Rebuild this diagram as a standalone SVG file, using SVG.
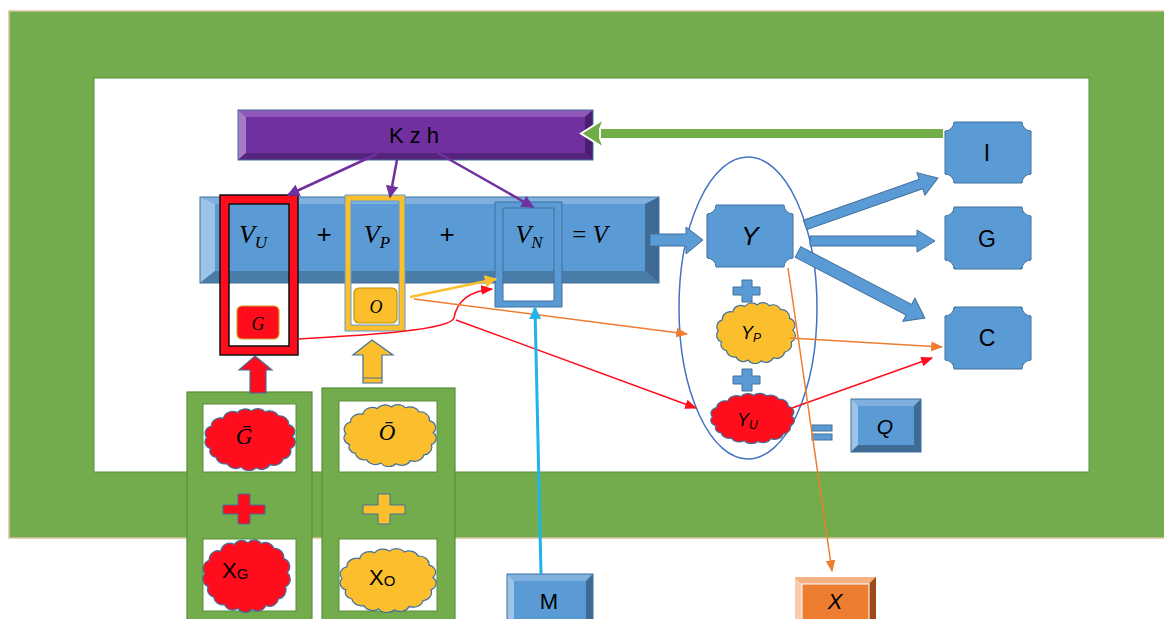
<svg xmlns="http://www.w3.org/2000/svg" width="1164" height="619" viewBox="0 0 1164 619">
<style>
.sans{font-family:"Liberation Sans","DejaVu Sans",sans-serif;fill:#000}
.math{font-family:"Liberation Serif","DejaVu Serif",serif;font-style:italic;fill:#000}
.blue{fill:#5B9BD5;stroke:#41719C;stroke-width:1}
.cloud{stroke:#41719C;stroke-width:1.2}
.thin{fill:none;stroke-width:1.5}
</style>
<defs>
<symbol id="cloudS" viewBox="0 0 100 80" preserveAspectRatio="none">
<path vector-effect="non-scaling-stroke" d="M8,52 A9,9 0 0 1 4,38 A9,9 0 0 1 9,24 A10,10 0 0 1 22,14 A10,10 0 0 1 37,7 A10,10 0 0 1 52,5 A10,10 0 0 1 67,6 A10,10 0 0 1 81,11 A10,10 0 0 1 92,22 A9,9 0 0 1 96,37 A9,9 0 0 1 94,52 A10,10 0 0 1 86,65 A10,10 0 0 1 72,72 A10,10 0 0 1 57,76 A10,10 0 0 1 41,75 A10,10 0 0 1 26,71 A10,10 0 0 1 14,63 A8,8 0 0 1 8,52 Z"/>
</symbol>
<marker id="aPur" viewBox="0 0 10 10" refX="9" refY="5" markerWidth="5" markerHeight="5" orient="auto"><path d="M0,0 L10,5 L0,10 Z" fill="#7030A0"/></marker>
<marker id="aRed" viewBox="0 0 10 10" refX="9" refY="5" markerWidth="8" markerHeight="8" orient="auto"><path d="M0,1 L10,5 L0,9 Z" fill="#FF0D1C"/></marker>
<marker id="aOr" viewBox="0 0 10 10" refX="9" refY="5" markerWidth="8" markerHeight="8" orient="auto"><path d="M0,1 L10,5 L0,9 Z" fill="#ED7D31"/></marker>
<marker id="aYel" viewBox="0 0 10 10" refX="9" refY="5" markerWidth="5" markerHeight="5" orient="auto"><path d="M0,0 L10,5 L0,10 Z" fill="#FBBF2E"/></marker>
<marker id="aCy" viewBox="0 0 10 10" refX="9" refY="5" markerWidth="4" markerHeight="4" orient="auto"><path d="M0,0 L10,5 L0,10 Z" fill="#1FB4EA"/></marker>
</defs>

<g id="frame">
<rect x="9" y="11" width="1160" height="527" fill="#72AC4D" stroke="#D8C49E" stroke-width="1.5"/>
<rect x="94" y="78" width="995" height="394" fill="#FFFFFF" stroke="#5E8F3A" stroke-width="1"/>
</g>

<g id="boxG">
<rect x="187" y="392" width="125" height="240" fill="#72AC4D" stroke="#5A8E3A" stroke-width="1.2"/>
<rect x="203" y="404" width="93" height="68" fill="#FFFFFF" stroke="#5A8E3A" stroke-width="1"/>
<rect x="203" y="539" width="93" height="72" fill="#FFFFFF" stroke="#5A8E3A" stroke-width="1"/>
</g>
<g id="boxO">
<rect x="322" y="388" width="133" height="240" fill="#72AC4D" stroke="#5A8E3A" stroke-width="1.2"/>
<rect x="339" y="401" width="98" height="71" fill="#FFFFFF" stroke="#5A8E3A" stroke-width="1"/>
<rect x="339" y="539" width="98" height="72" fill="#FFFFFF" stroke="#5A8E3A" stroke-width="1"/>
</g>

<g id="Gbar">
<use href="#cloudS" x="203" y="407" width="93" height="64" fill="#FF0D1C" class="cloud"/>
<text x="244" y="444" class="math" font-size="23" text-anchor="middle">Ḡ</text>
</g>
<g id="Obar">
<use href="#cloudS" x="342" y="403" width="95" height="64" fill="#FBBF2E" class="cloud"/>
<text x="387" y="440" class="math" font-size="23" text-anchor="middle">Ō</text>
</g>
<g id="plusRed"><path d="M238,494 H250 V505 H265 V514 H250 V524 H238 V514 H223 V505 H238 Z" fill="#FF0D1C" stroke="#41719C" stroke-width="1"/></g>
<g id="plusYel"><path d="M378,494 H390 V505 H405 V514 H390 V524 H378 V514 H363 V505 H378 Z" fill="#FBBF2E" stroke="#41719C" stroke-width="1"/></g>
<g id="XG">
<use href="#cloudS" x="201" y="538" width="90" height="75" fill="#FF0D1C" class="cloud"/>
<text x="222" y="578" class="sans" font-size="22">X<tspan font-size="15" dy="1">G</tspan></text>
</g>
<g id="XO">
<use href="#cloudS" x="338" y="547" width="99" height="66" fill="#FBBF2E" class="cloud"/>
<text x="369" y="585" class="sans" font-size="22">X<tspan font-size="15" dy="1">O</tspan></text>
</g>

<g id="upRed"><path d="M255,356 L272,370 L266,370 L266,393 L250,393 L250,370 L239,370 Z" fill="#FF0D1C" stroke="#41719C" stroke-width="1.2"/></g>
<g id="upYel"><path d="M372,340 L393,355 L382,355 L382,383 L363,383 L363,355 L353,355 Z" fill="#FBBF2E" stroke="#41719C" stroke-width="1.2"/><line x1="363" y1="378" x2="382" y2="378" stroke="#41719C" stroke-width="1"/></g>

<g id="Kzh">
<rect x="238" y="110" width="355" height="50" fill="#7030A0"/>
<polygon points="238,110 593,110 585,117 246,117" fill="#8E58BA"/>
<polygon points="238,110 246,117 246,153 238,160" fill="#A67BC6"/>
<polygon points="593,110 593,160 585,153 585,117" fill="#4B1F6F"/>
<polygon points="238,160 246,153 585,153 593,160" fill="#55247D"/>
<rect x="238" y="110" width="355" height="50" fill="none" stroke="#41719C" stroke-width="1"/>
<text x="414" y="143" class="sans" font-size="22" text-anchor="middle">K z h</text>
</g>

<g id="Vbar">
<rect x="200" y="197" width="459" height="86" fill="#5B9BD5"/>
<polygon points="200,197 659,197 645,204 215,204" fill="#7FB0DE"/>
<polygon points="200,197 215,204 215,271 200,283" fill="#9DC3E6"/>
<polygon points="659,197 659,283 645,271 645,204" fill="#3E6A94"/>
<polygon points="200,283 215,271 645,271 659,283" fill="#4A7CA8"/>
<rect x="200" y="197" width="459" height="86" fill="none" stroke="#41719C" stroke-width="1"/>
<text x="324" y="243" class="sans" font-size="26" text-anchor="middle">+</text>
<text x="447" y="243" class="sans" font-size="26" text-anchor="middle">+</text>
<text x="590" y="243" class="math" font-size="25" text-anchor="middle" style="font-style:normal">= <tspan style="font-style:italic">V</tspan></text>
</g>

<g id="VU">
<path d="M220,195 H298 V355 H220 Z M229,204 V346 H289 V204 Z" fill="#FF0D1C" fill-rule="evenodd" stroke="#111" stroke-width="1.5"/>
<text x="253" y="243" class="math" font-size="26" text-anchor="middle">V<tspan font-size="17" dy="5">U</tspan></text>
<rect x="237" y="306" width="42" height="33" rx="5" fill="#FF0D1C" stroke="#C9A227" stroke-width="1.2"/>
<text x="258" y="330" class="math" font-size="18" text-anchor="middle">G</text>
</g>

<g id="VP">
<path d="M345,195 H405 V331 H345 Z M351,201 V325 H399 V201 Z" fill="#FBBF2E" fill-rule="evenodd" stroke="#5B9BD5" stroke-width="1"/>
<text x="377" y="243" class="math" font-size="26" text-anchor="middle">V<tspan font-size="17" dy="5">P</tspan></text>
<rect x="354" y="288" width="43" height="35" rx="5" fill="#FBBF2E" stroke="#BF9000" stroke-width="1.2"/>
<text x="376" y="313" class="math" font-size="18" text-anchor="middle">O</text>
</g>

<g id="VN">
<path d="M495,202 H562 V307 H495 Z M503,208 V301 H554 V208 Z" fill="#5B9BD5" fill-rule="evenodd" stroke="#41719C" stroke-width="1"/>
<text x="529" y="243" class="math" font-size="26" text-anchor="middle">V<tspan font-size="17" dy="5">N</tspan></text>
</g>

<g id="Yset">
<ellipse cx="748" cy="308" rx="69" ry="151" fill="none" stroke="#4472C4" stroke-width="1.5"/>
</g>
<g id="Y">
<path d="M716,205 L784,205 A9,9 0 0 0 793,214 L793,258 A9,9 0 0 0 784,267 L716,267 A9,9 0 0 0 707,258 L707,214 A9,9 0 0 0 716,205 Z" class="blue"/>
<text x="750" y="245" class="sans" font-size="26" font-style="italic" text-anchor="middle">Y</text>
</g>
<g id="plus1"><path d="M742,280 H752 V287 H760 V295 H752 V302 H742 V295 H733 V287 H742 Z" class="blue"/></g>
<g id="plus2"><path d="M742,369 H752 V376 H760 V384 H752 V391 H742 V384 H733 V376 H742 Z" class="blue"/></g>
<g id="YP">
<use href="#cloudS" x="715" y="301" width="81" height="63" fill="#FBBF2E" class="cloud"/>
<text x="741" y="339" class="sans" font-size="18" font-style="italic">Y<tspan font-size="12" dy="3">P</tspan></text>
</g>
<g id="YU">
<use href="#cloudS" x="709" y="392" width="86" height="52" fill="#FF0D1C" class="cloud"/>
<text x="737" y="426" class="sans" font-size="18" font-style="italic">Y<tspan font-size="12" dy="3">U</tspan></text>
</g>
<g id="eq"><rect x="812" y="425" width="20" height="6" class="blue"/><rect x="812" y="434" width="20" height="6" class="blue"/></g>

<g id="Q">
<rect x="851" y="399" width="70" height="53" fill="#5B9BD5"/>
<polygon points="851,399 921,399 914,406 858,406" fill="#7FB0DE"/>
<polygon points="851,399 858,406 858,445 851,452" fill="#9DC3E6"/>
<polygon points="921,399 921,452 914,445 914,406" fill="#3E6A94"/>
<polygon points="851,452 858,445 914,445 921,452" fill="#3E6A94"/>
<rect x="851" y="399" width="70" height="53" fill="none" stroke="#41719C" stroke-width="1"/>
<text x="885" y="434" class="sans" font-size="21" font-style="italic" text-anchor="middle">Q</text>
</g>

<g id="I">
<path d="M954,122 L1022,122 A9,9 0 0 0 1031,131 L1031,174 A9,9 0 0 0 1022,183 L954,183 A9,9 0 0 0 945,174 L945,131 A9,9 0 0 0 954,122 Z" class="blue"/>
<text x="987" y="161" class="sans" font-size="23" text-anchor="middle">I</text>
</g>
<g id="G">
<path d="M954,207 L1022,207 A9,9 0 0 0 1031,216 L1031,260 A9,9 0 0 0 1022,269 L954,269 A9,9 0 0 0 945,260 L945,216 A9,9 0 0 0 954,207 Z" class="blue"/>
<text x="987" y="247" class="sans" font-size="23" text-anchor="middle">G</text>
</g>
<g id="C">
<path d="M954,307 L1022,307 A9,9 0 0 0 1031,316 L1031,360 A9,9 0 0 0 1022,369 L954,369 A9,9 0 0 0 945,360 L945,316 A9,9 0 0 0 954,307 Z" class="blue"/>
<text x="987" y="346" class="sans" font-size="23" text-anchor="middle">C</text>
</g>

<g id="M">
<rect x="507" y="574" width="86" height="50" fill="#5B9BD5"/>
<polygon points="507,574 593,574 586,581 514,581" fill="#7FB0DE"/>
<polygon points="507,574 514,581 514,624 507,624" fill="#9DC3E6"/>
<polygon points="593,574 593,624 586,624 586,581" fill="#3E6A94"/>
<rect x="507" y="574" width="86" height="50" fill="none" stroke="#41719C" stroke-width="1"/>
<text x="549" y="609" class="sans" font-size="22" text-anchor="middle">M</text>
</g>
<g id="X">
<rect x="795" y="577" width="81" height="46" fill="#ED7D31"/>
<polygon points="795,577 876,577 869,584 802,584" fill="#F4B183"/>
<polygon points="795,577 802,584 802,623 795,623" fill="#F8CBAD"/>
<polygon points="876,577 876,623 869,623 869,584" fill="#9C4A1A"/>
<rect x="802" y="584" width="67" height="40" fill="none" stroke="#FFFFFF" stroke-width="1"/>
<text x="835" y="609" class="sans" font-size="22" font-style="italic" text-anchor="middle">X</text>
</g>

<g id="connectors">
<rect x="600" y="129" width="343" height="9" fill="#70AD47"/>
<polygon points="581,133.5 604,119 600,129 600,138 604,148" fill="#70AD47" stroke="#FFFFFF" stroke-width="2"/>
<line x1="377" y1="154" x2="288" y2="195" stroke="#7030A0" stroke-width="2.5" marker-end="url(#aPur)"/>
<line x1="397" y1="160" x2="390" y2="197" stroke="#7030A0" stroke-width="2.5" marker-end="url(#aPur)"/>
<line x1="438" y1="153" x2="533" y2="207" stroke="#7030A0" stroke-width="2.5" marker-end="url(#aPur)"/>
<polygon points="650,234 686,234 686,227 703,240 686,254 686,246 650,246" class="blue"/>
<polygon transform="translate(805,225) rotate(-19.5)" points="0,-5 123,-5 123,-12 141,0 123,12 123,5 0,5" class="blue"/>
<polygon transform="translate(810,241)" points="0,-5 107,-5 107,-11 125,0 107,11 107,5 0,5" class="blue"/>
<polygon transform="translate(798,252) rotate(27.5)" points="0,-6 125,-6 125,-13 143,0 125,13 125,6 0,6" class="blue"/>
<line x1="410" y1="297" x2="496" y2="279" stroke="#FBBF2E" stroke-width="2.5" marker-end="url(#aYel)"/>
<path d="M298,339 C370,335 450,330 454,318 C457,300 470,291 492,289" class="thin" stroke="#FF0D1C" marker-end="url(#aRed)"/>
<line x1="456" y1="320" x2="696" y2="408" stroke="#FF0D1C" stroke-width="1.5" marker-end="url(#aRed)"/>
<line x1="414" y1="299" x2="687" y2="334" stroke="#ED7D31" stroke-width="1.5" marker-end="url(#aOr)"/>
<line x1="541" y1="574" x2="535" y2="308" stroke="#1FB4EA" stroke-width="3" marker-end="url(#aCy)"/>
<line x1="790" y1="338" x2="942" y2="347" stroke="#ED7D31" stroke-width="1.5" marker-end="url(#aOr)"/>
<line x1="792" y1="408" x2="932" y2="358" stroke="#FF0D1C" stroke-width="1.5" marker-end="url(#aRed)"/>
<line x1="788" y1="268" x2="832" y2="571" stroke="#ED7D31" stroke-width="1.5" marker-end="url(#aOr)"/>
</g>
</svg>
